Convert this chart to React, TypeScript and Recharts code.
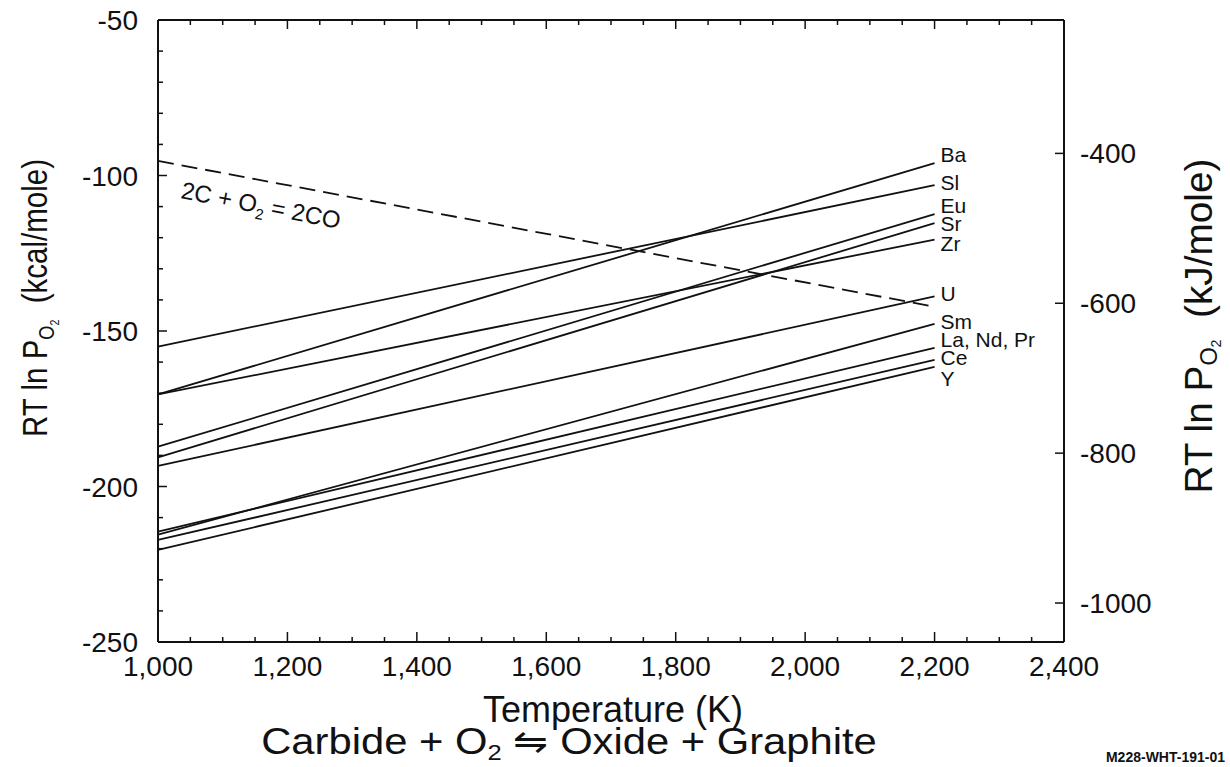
import React from "react";
import { LineChart, Line, XAxis, YAxis, Customized } from "recharts";

// Temperatures (K) at the two ends of every line
const temps = [1000, 2200];

// RT ln P(O2) in kcal/mole, read at 1000 K and 2200 K
const ba = [-170.4, -96.0];
const sl = [-155.0, -103.1];
const eu = [-187.2, -112.4];
const sr = [-190.6, -115.3];
const zr = [-170.4, -120.6];
const u = [-193.4, -138.9];
const sm = [-215.5, -147.7];
const la = [-214.5, -155.4];
const ce = [-217.2, -159.3];
const yt = [-220.4, -161.5];
// 2C + O2 = 2CO
const co = [-95.3, -142.2];

const xTicks = [
  1000, 1050, 1100, 1150, 1200, 1250, 1300, 1350, 1400, 1450, 1500, 1550, 1600, 1650, 1700,
  1750, 1800, 1850, 1900, 1950, 2000, 2050, 2100, 2150, 2200, 2250, 2300, 2350, 2400,
];
const xMajor = [1000, 1200, 1400, 1600, 1800, 2000, 2200, 2400];
const yTicks = [
  -250, -240, -230, -220, -210, -200, -190, -180, -170, -160, -150, -140, -130, -120, -110,
  -100, -90, -80, -70, -60, -50,
];
const yMajor = [-250, -200, -150, -100, -50];
const kjTicks = [-1000, -800, -600, -400];

const series = [
  { key: "Ba", label: "Ba", values: ba },
  { key: "Sl", label: "Sl", values: sl },
  { key: "Eu", label: "Eu", values: eu },
  { key: "Sr", label: "Sr", values: sr },
  { key: "Zr", label: "Zr", values: zr },
  { key: "U", label: "U", values: u },
  { key: "Sm", label: "Sm", values: sm },
  { key: "La", label: "La, Nd, Pr", values: la },
  { key: "Ce", label: "Ce", values: ce },
  { key: "Y", label: "Y", values: yt },
];

// vertical nudges so the end labels don't pile up
const LABEL_DY: Record<string, number> = {
  Ba: -9, Sl: -2.5, Eu: -9, Sr: 0, Zr: 4, U: -3, Sm: -2, La: -8, Ce: -2, Y: 12,
};

const data = temps.map((t, i) => {
  const row: any = { t, CO: co[i] };
  series.forEach((s) => (row[s.key] = s.values[i]));
  return row;
});

const FONT = "'Liberation Sans', Arial, Helvetica, sans-serif";
const INK = "#111";

const fmt = (v: number) => v.toLocaleString("en-US");

const BottomTick = (props: any) => {
  const { x, y, payload } = props;
  const major = xMajor.includes(payload.value);
  return (
    <g>
      <line x1={x} y1={y} x2={x} y2={y - (major ? 10 : 5)} stroke={INK} strokeWidth={1.5} />
      {major && (
        <text x={x} y={y + 34} textAnchor="middle" fontSize={28} fontFamily={FONT} fill={INK}>
          {fmt(payload.value)}
        </text>
      )}
    </g>
  );
};

const TopTick = (props: any) => {
  const { x, y, payload } = props;
  const major = xMajor.includes(payload.value);
  return <line x1={x} y1={y} x2={x} y2={y + (major ? 9 : 5)} stroke={INK} strokeWidth={1.5} />;
};

const LeftTick = (props: any) => {
  const { x, y, payload } = props;
  const major = yMajor.includes(payload.value);
  return (
    <g>
      <line x1={x} y1={y} x2={x + (major ? 9 : 5)} y2={y} stroke={INK} strokeWidth={1.5} />
      {major && (
        <text x={x - 20} y={y + 10} textAnchor="end" fontSize={28} fontFamily={FONT} fill={INK}>
          {payload.value}
        </text>
      )}
    </g>
  );
};

const RightTick = (props: any) => {
  const { x, y, payload } = props;
  return (
    <g>
      <line x1={x} y1={y} x2={x - 9} y2={y} stroke={INK} strokeWidth={1.5} />
      <text x={x + 16} y={y + 10} textAnchor="start" fontSize={28} fontFamily={FONT} fill={INK}>
        {payload.value}
      </text>
    </g>
  );
};

const endLabel = (key: string, text: string) => (props: any) => {
  if (props.index !== temps.length - 1) return null;
  return (
    <text
      key={`lbl-${key}`}
      x={props.x + 6}
      y={props.y + LABEL_DY[key] + 7.5}
      fontSize={21}
      fontFamily={FONT}
      fill={INK}
    >
      {text}
    </text>
  );
};

const coLabel = (props: any) => {
  if (props.index !== 0) return null;
  return (
    <text
      key="lbl-co"
      transform={`translate(${props.x + 22},${props.y + 37}) rotate(11)`}
      fontSize={24}
      fontFamily={FONT}
      fill={INK}
    >
      2C + O<tspan dy={6} fontSize={15}>2</tspan>
      <tspan dy={-6}> = 2CO</tspan>
    </text>
  );
};

const Titles = () => (
  <g fontFamily={FONT} fill={INK}>
    <text transform="translate(47,298) rotate(-90) scale(0.82,1)" textAnchor="middle" fontSize={36}>
      RT ln P<tspan dy={7} fontSize={22}>O</tspan>
      <tspan dy={5} fontSize={13}>2</tspan>
      <tspan dy={-12}>{"\u00a0\u00a0(kcal/mole)"}</tspan>
    </text>
    <text transform="translate(1212,326) rotate(-90) scale(1.02,1)" textAnchor="middle" fontSize={38}>
      RT ln P<tspan dy={5} fontSize={23}>O</tspan>
      <tspan dy={4} fontSize={14}>2</tspan>
      <tspan dy={-9}>{"\u00a0\u00a0(kJ/mole)"}</tspan>
    </text>
    <text x={613} y={722} textAnchor="middle" fontSize={36}>
      Temperature (K)
    </text>
    <text transform="translate(569,754) scale(1.16,1)" textAnchor="middle" fontSize={36}>
      Carbide + O<tspan dy={6} fontSize={22}>2</tspan>
      <tspan dy={-6}> ⇋ Oxide + Graphite</tspan>
    </text>
    <text x={1225} y={762} textAnchor="end" fontSize={14} fontWeight="bold">
      M228-WHT-191-01
    </text>
  </g>
);

export default function App() {
  return (
    <div style={{ position: "absolute", left: 0, top: 0, background: "#fff" }}>
      <LineChart
        width={1230}
        height={767}
        data={data}
        margin={{ top: 10, right: 26, bottom: 65, left: 38 }}
      >
        <XAxis
          dataKey="t"
          type="number"
          domain={[1000, 2400]}
          ticks={xTicks}
          interval={0}
          tickSize={0}
          tickMargin={0}
          tickLine={false}
          tick={<BottomTick />}
          height={60}
          axisLine={{ stroke: INK, strokeWidth: 2 }}
        />
        <XAxis
          xAxisId="top"
          orientation="top"
          dataKey="t"
          type="number"
          domain={[1000, 2400]}
          ticks={xTicks}
          interval={0}
          tickSize={0}
          tickMargin={0}
          tickLine={false}
          tick={<TopTick />}
          height={10}
          axisLine={{ stroke: INK, strokeWidth: 2 }}
        />
        <YAxis
          type="number"
          domain={[-250, -50]}
          ticks={yTicks}
          interval={0}
          tickSize={0}
          tickMargin={0}
          tickLine={false}
          tick={<LeftTick />}
          width={120}
          axisLine={{ stroke: INK, strokeWidth: 2 }}
        />
        <YAxis
          yAxisId="kj"
          orientation="right"
          type="number"
          domain={[-1052, -222]}
          allowDataOverflow
          ticks={kjTicks}
          interval={0}
          tickSize={0}
          tickMargin={0}
          tickLine={false}
          tick={<RightTick />}
          width={140}
          axisLine={{ stroke: INK, strokeWidth: 2 }}
        />
        {series.map((s) => (
          <Line
            key={s.key}
            dataKey={s.key}
            stroke={INK}
            strokeWidth={1.8}
            dot={false}
            activeDot={false}
            isAnimationActive={false}
            label={endLabel(s.key, s.label)}
          />
        ))}
        <Line
          dataKey="CO"
          stroke={INK}
          strokeWidth={1.8}
          strokeDasharray="16 8"
          dot={false}
          activeDot={false}
          isAnimationActive={false}
          label={coLabel}
        />
        <Customized component={Titles} />
      </LineChart>
    </div>
  );
}
